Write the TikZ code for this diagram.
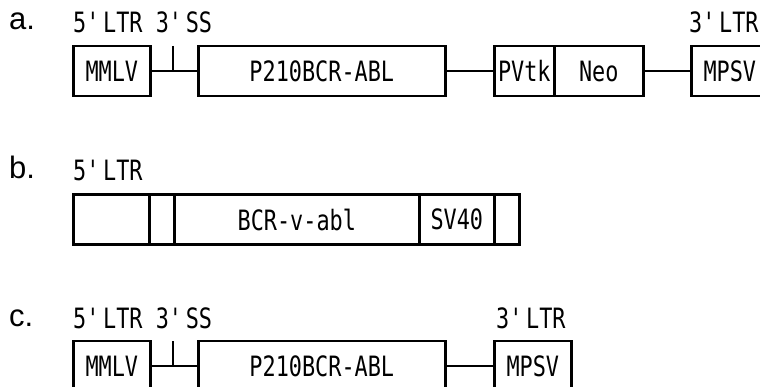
\documentclass[tikz,border=0pt]{standalone}
\usepackage{fontspec}
\usepackage{tikz}
\newfontfamily\genefont[FakeStretch=0.78]{DejaVu Sans Mono}
\newfontfamily\rowfont{Liberation Sans}
\newcommand\gene{\genefont\fontsize{28}{32}\selectfont}
\newcommand\ap{\textquotesingle}

\tikzset{
  seg/.style={draw, line width=2.6pt, minimum height=50pt, inner sep=0pt,
    anchor=west, font=\gene},
  link/.style={line width=2pt},
  tag/.style={anchor=base west, inner sep=0pt, font=\gene},
  rowlabel/.style={anchor=base west, inner sep=0pt,
    font=\rowfont\fontsize{31}{34}\selectfont},
}

\begin{document}
\begin{tikzpicture}[x=1pt,y=-1pt]
  \useasboundingbox (0,0) rectangle (760,387);
  \clip (0,0) rectangle (760,387);

  % a.
  \node[rowlabel] (la) at (9,30) {a.};
  \node[tag] (a5) at (73,33) {5\ap LTR 3\ap SS};
  \node[tag] (a3) at (689,33) {3\ap LTR};
  \node[seg, minimum width=77pt] (mmlv-a) at (72,71) {MMLV};
  \node[seg, minimum width=247pt] (bcr-a) at (197,71) {P210BCR-ABL};
  \node[seg, minimum width=60pt] (pvtk) at (493,71) {PVtk};
  \node[seg, minimum width=89pt] (neo) at (553,71) {Neo};
  \node[seg, minimum width=77pt] (mpsv-a) at (690,71) {MPSV};
  \coordinate (ss-a) at (173,46);

  \draw[link] (mmlv-a) -- (bcr-a);
  \draw[link] (ss-a) -- (ss-a |- mmlv-a.east);
  \draw[link] (bcr-a) -- (pvtk);
  \draw[link] (neo) -- (mpsv-a);

  % b.
  \node[rowlabel] (lb) at (9,179) {b.};
  \node[tag] (b5) at (73,181) {5\ap LTR};
  \node[seg, minimum width=76pt] (ltr-b) at (72,219.5) {};
  \node[seg, minimum width=25pt] (ss-b) at (148,219.5) {};
  \node[seg, minimum width=245pt] (vabl) at (173,219.5) {BCR-v-abl};
  \node[seg, minimum width=75pt] (sv40) at (418,219.5) {SV40};
  \node[seg, minimum width=25pt] (end-b) at (493,219.5) {};

  % c.
  \node[rowlabel] (lc) at (9,326) {c.};
  \node[tag] (c5) at (73,328) {5\ap LTR 3\ap SS};
  \node[tag] (c3) at (496,328) {3\ap LTR};
  \node[seg, minimum width=77pt] (mmlv-c) at (72,366) {MMLV};
  \node[seg, minimum width=247pt] (bcr-c) at (197,366) {P210BCR-ABL};
  \node[seg, minimum width=77pt] (mpsv-c) at (493,366) {MPSV};
  \coordinate (ss-c) at (173,341);

  \draw[link] (mmlv-c) -- (bcr-c);
  \draw[link] (ss-c) -- (ss-c |- mmlv-c.east);
  \draw[link] (bcr-c) -- (mpsv-c);
\end{tikzpicture}
\end{document}
